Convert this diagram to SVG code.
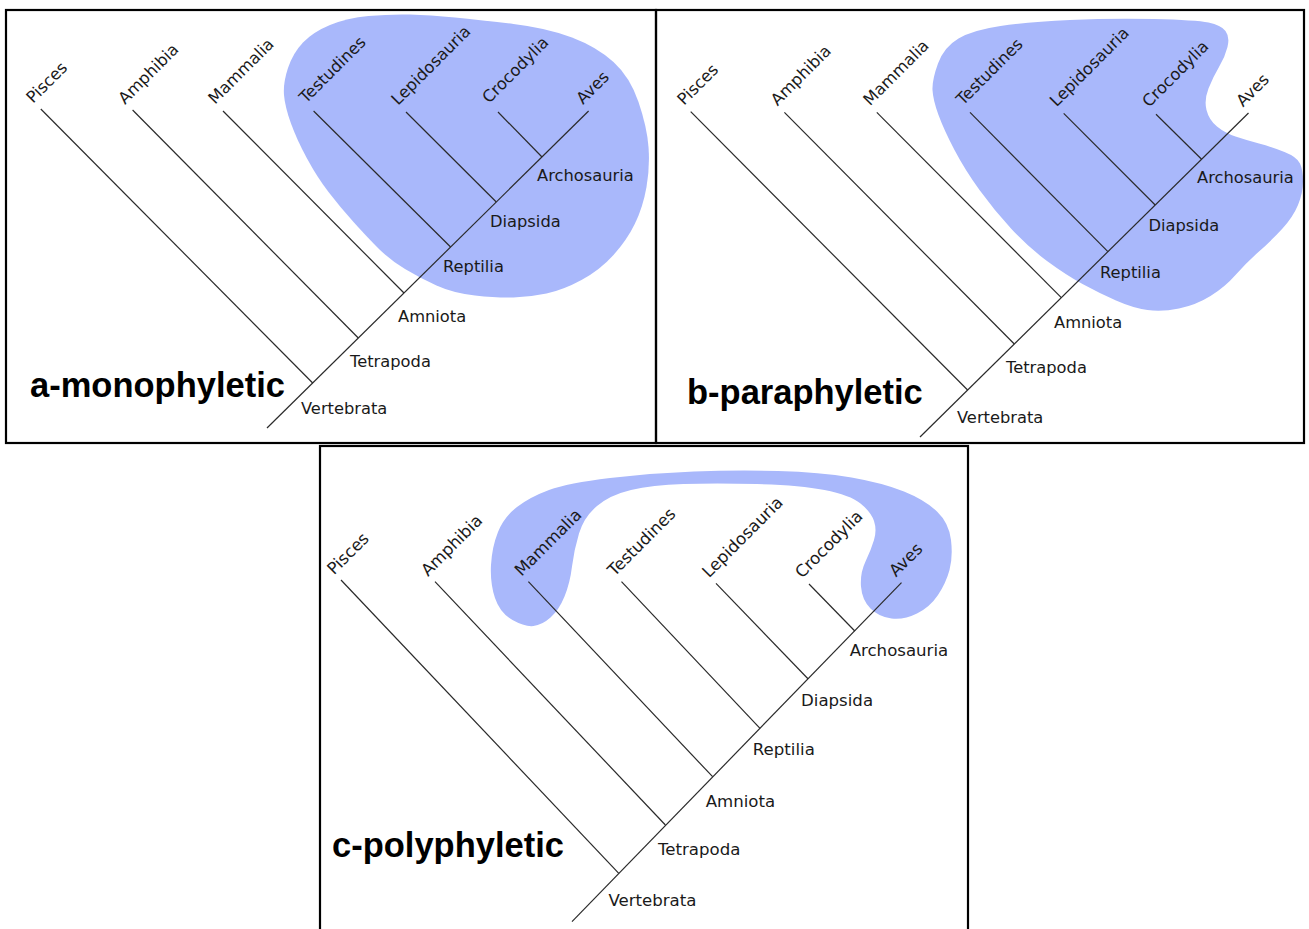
<svg xmlns="http://www.w3.org/2000/svg" width="1309" height="929" viewBox="0 0 1309 929">
<style>
.bg{fill:#ffffff}
.frame{fill:none;stroke:#000;stroke-width:2.2}
.blob{fill:#a9b8fb;stroke:none}
.br{stroke:#2a2a2a;stroke-width:1.2;fill:none;stroke-linecap:butt}
.tx{font-family:"DejaVu Sans","Liberation Sans",sans-serif;font-size:16.3px;fill:#1a1a1a}
.tc{font-size:16.6px}
.title{font-family:"Liberation Sans",Arial,sans-serif;font-weight:bold;font-size:34.5px;fill:#000}
</style>
<rect class="bg" x="0" y="0" width="1309" height="929"/>

<!-- Panel A -->
<g id="panel-a">
<path class="blob" d="M 284,95 Q 283,83 288,68 Q 293,53 303,42.5 Q 313,32 330,25 Q 347,18 368.5,16 Q 390,14 410,14.5 Q 430,15 455,17.5 Q 480,20 513.5,24 Q 547,28 572,37.5 Q 597,47 613.5,62 Q 630,77 638.5,102 Q 647,127 648.5,147 Q 650,167 646.5,187 Q 643,207 635,223.5 Q 627,240 613.5,255 Q 600,270 581.5,280 Q 563,290 546.5,293.5 Q 530,297 513.5,297.5 Q 497,298 475,295.5 Q 453,293 436.5,285.5 Q 420,278 405,269 Q 390,260 378.5,248.5 Q 367,237 353.5,222 Q 340,207 328.5,192 Q 317,177 307,158.5 Q 297,140 291,123.5 Q 285,107 284,95 Z"/>
<g id="a-connectors">
<line class="br" x1="267" y1="428" x2="588.6" y2="111"/>
<line class="br" x1="40.8" y1="109" x2="312.7" y2="383"/>
<line class="br" x1="132.6" y1="110" x2="358.3" y2="338"/>
<line class="br" x1="223" y1="111" x2="404" y2="293"/>
<line class="br" x1="313.6" y1="111" x2="450.6" y2="247"/>
<line class="br" x1="406" y1="112" x2="496.3" y2="202"/>
<line class="br" x1="498" y1="112" x2="542" y2="157"/>
</g>
<g id="a-pisces"><text class="tx" transform="translate(33,104) rotate(-45)">Pisces</text></g>
<g id="a-amphibia"><text class="tx" transform="translate(125,105) rotate(-45)">Amphibia</text></g>
<g id="a-mammalia"><text class="tx" transform="translate(215,105) rotate(-45)">Mammalia</text></g>
<g id="a-testudines"><text class="tx" transform="translate(306,104) rotate(-45)">Testudines</text></g>
<g id="a-lepidosauria"><text class="tx" transform="translate(398,106) rotate(-45)">Lepidosauria</text></g>
<g id="a-crocodylia"><text class="tx" transform="translate(489,104) rotate(-45)">Crocodylia</text></g>
<g id="a-aves"><text class="tx" transform="translate(583,105) rotate(-45)">Aves</text></g>
<g id="a-archosauria"><text class="tx" x="537" y="181">Archosauria</text></g>
<g id="a-diapsida"><text class="tx" x="490" y="227">Diapsida</text></g>
<g id="a-reptilia"><text class="tx" x="443" y="272">Reptilia</text></g>
<g id="a-amniota"><text class="tx" x="398" y="322">Amniota</text></g>
<g id="a-tetrapoda"><text class="tx" x="350" y="366.5">Tetrapoda</text></g>
<g id="a-vertebrata"><text class="tx" x="301" y="414">Vertebrata</text></g>
<g id="a-title"><text class="title" x="30" y="397">a-monophyletic</text></g>
</g>

<!-- Panel B -->
<g id="panel-b">
<path class="blob" d="M 932.5,90 Q 932,80 938,63.5 Q 944,47 958.5,38.5 Q 973,30 1000.5,26 Q 1028,22 1070,20 Q 1112,18 1154,19 Q 1196,20 1208.5,22.5 Q 1221,25 1225.5,31 Q 1230,37 1227.5,47 Q 1225,57 1219,67 Q 1213,77 1208.5,88.5 Q 1204,100 1206.5,110 Q 1209,120 1217,126.5 Q 1225,133 1235.5,136.5 Q 1246,140 1259,143.5 Q 1272,147 1284.5,152 Q 1297,157 1300,163.5 Q 1303,170 1303,181.5 Q 1303,193 1298,205 Q 1293,217 1282.5,228.5 Q 1272,240 1259,251.5 Q 1246,263 1235.5,275 Q 1225,287 1210.5,296 Q 1196,305 1179,308.5 Q 1162,312 1147.5,310 Q 1133,308 1116,300.5 Q 1099,293 1082.5,284 Q 1066,275 1047,261 Q 1028,247 1011,228.5 Q 994,210 979.5,190 Q 965,170 954.5,150 Q 944,130 938.5,115 Q 933,100 932.5,90 Z"/>
<g id="b-connectors">
<line class="br" x1="920" y1="437" x2="1248.5" y2="113"/>
<line class="br" x1="690.7" y1="111.7" x2="967.6" y2="390"/>
<line class="br" x1="784.4" y1="112.3" x2="1014.3" y2="344"/>
<line class="br" x1="876.8" y1="112.3" x2="1061.3" y2="297.7"/>
<line class="br" x1="970" y1="112.3" x2="1107.9" y2="251.7"/>
<line class="br" x1="1063.7" y1="113.3" x2="1155.2" y2="205"/>
<line class="br" x1="1156" y1="114.3" x2="1201.6" y2="159.3"/>
</g>
<g id="b-pisces"><text class="tx" transform="translate(684,106) rotate(-45)">Pisces</text></g>
<g id="b-amphibia"><text class="tx" transform="translate(777.5,106.5) rotate(-45)">Amphibia</text></g>
<g id="b-mammalia"><text class="tx" transform="translate(870,106.5) rotate(-45)">Mammalia</text></g>
<g id="b-testudines"><text class="tx" transform="translate(963,106) rotate(-45)">Testudines</text></g>
<g id="b-lepidosauria"><text class="tx" transform="translate(1056.5,107.5) rotate(-45)">Lepidosauria</text></g>
<g id="b-crocodylia"><text class="tx" transform="translate(1149,108) rotate(-45)">Crocodylia</text></g>
<g id="b-aves"><text class="tx" transform="translate(1243,107.5) rotate(-45)">Aves</text></g>
<g id="b-archosauria"><text class="tx" x="1197" y="183">Archosauria</text></g>
<g id="b-diapsida"><text class="tx" x="1148.5" y="231">Diapsida</text></g>
<g id="b-reptilia"><text class="tx" x="1100" y="278">Reptilia</text></g>
<g id="b-amniota"><text class="tx" x="1054" y="328">Amniota</text></g>
<g id="b-tetrapoda"><text class="tx" x="1006" y="373">Tetrapoda</text></g>
<g id="b-vertebrata"><text class="tx" x="957" y="422.7">Vertebrata</text></g>
<g id="b-title"><text class="title" x="687" y="404">b-paraphyletic</text></g>
</g>

<!-- Panel C -->
<g id="panel-c">
<path class="blob" d="M 533.5,626 Q 525,627 512.5,620 Q 500,613 495,598 Q 490,583 491,565 Q 492,547 498,532 Q 504,517 517,507 Q 530,497 549,490 Q 568,483 610,478 Q 652,473 694,471.5 Q 736,470 778,471 Q 820,472 851.5,477.5 Q 883,483 904,491.5 Q 925,500 937,511.5 Q 949,523 951,540 Q 953,557 949.5,570 Q 946,583 938,595 Q 930,607 917,613.5 Q 904,620 891.5,618.5 Q 879,617 870.5,608.5 Q 862,600 861,586.5 Q 860,573 865.5,561.5 Q 871,550 874,540 Q 877,530 874,521 Q 871,512 860.5,503.5 Q 850,495 824.5,490 Q 799,485 757,484 Q 715,483 683.5,484 Q 652,485 631,490 Q 610,495 597,506 Q 584,517 579,533.5 Q 574,550 572,566.5 Q 570,583 564.5,596.5 Q 559,610 550.5,617.5 Q 542,625 533.5,626 Z"/>
<g id="c-connectors">
<line class="br" x1="572" y1="921.7" x2="901.5" y2="582.7"/>
<line class="br" x1="341" y1="580" x2="618.8" y2="873.3"/>
<line class="br" x1="435" y1="581.7" x2="665.4" y2="825"/>
<line class="br" x1="528.4" y1="581.7" x2="712.6" y2="776.7"/>
<line class="br" x1="621.5" y1="581.7" x2="760" y2="728.3"/>
<line class="br" x1="716" y1="583.3" x2="808.2" y2="679"/>
<line class="br" x1="809" y1="584" x2="854.8" y2="631"/>
</g>
<g id="c-pisces"><text class="tx tc" transform="translate(334,575.5) rotate(-45)">Pisces</text></g>
<g id="c-amphibia"><text class="tx tc" transform="translate(428,577) rotate(-45)">Amphibia</text></g>
<g id="c-mammalia"><text class="tx tc" transform="translate(521.5,577) rotate(-45)">Mammalia</text></g>
<g id="c-testudines"><text class="tx tc" transform="translate(614.5,577) rotate(-45)">Testudines</text></g>
<g id="c-lepidosauria"><text class="tx tc" transform="translate(709,578.5) rotate(-45)">Lepidosauria</text></g>
<g id="c-crocodylia"><text class="tx tc" transform="translate(802,579) rotate(-45)">Crocodylia</text></g>
<g id="c-aves"><text class="tx tc" transform="translate(896,577.5) rotate(-45)">Aves</text></g>
<g id="c-archosauria"><text class="tx tc" x="849.7" y="656">Archosauria</text></g>
<g id="c-diapsida"><text class="tx tc" x="801" y="706">Diapsida</text></g>
<g id="c-reptilia"><text class="tx tc" x="752.8" y="755">Reptilia</text></g>
<g id="c-amniota"><text class="tx tc" x="705.7" y="806.7">Amniota</text></g>
<g id="c-tetrapoda"><text class="tx tc" x="658" y="855">Tetrapoda</text></g>
<g id="c-vertebrata"><text class="tx tc" x="608.4" y="906">Vertebrata</text></g>
<g id="c-title"><text class="title" x="332" y="857">c-polyphyletic</text></g>
</g>

<g id="frames">
<rect class="frame" x="6" y="10" width="650" height="433"/>
<rect class="frame" x="656" y="10" width="648" height="433"/>
<rect class="frame" x="320" y="446" width="648" height="495"/>
</g>
</svg>
